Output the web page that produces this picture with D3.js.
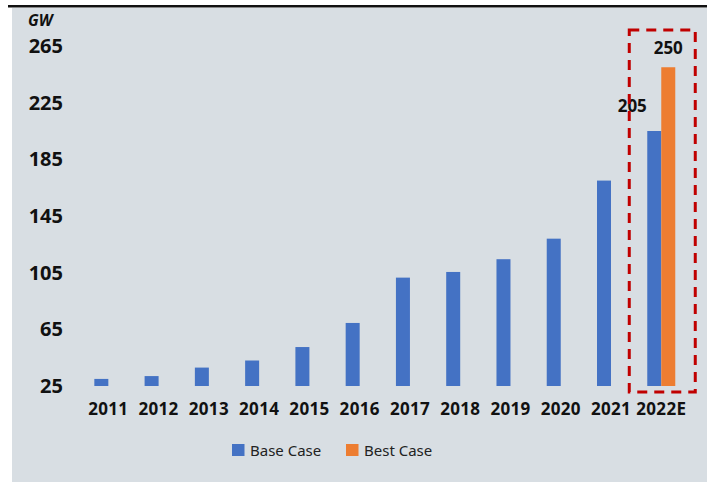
<!DOCTYPE html>
<html><head><meta charset="utf-8">
<script src="https://cdn.jsdelivr.net/npm/d3@7"></script>
<style>body{margin:0;background:#fff;}svg{display:block;}</style>
</head><body>
<svg id="c" width="707" height="482"></svg>
<script>
const categories = ["2011","2012","2013","2014","2015","2016","2017","2018","2019","2020","2021","2022E"];
const baseCase = [30, 32, 38, 43, 52.5, 69.5, 101.5, 105.5, 114.5, 129, 170, 205];
const bestCase = [null, null, null, null, null, null, null, null, null, null, null, 250];
const seriesNames = ["Base Case", "Best Case"];
const seriesColors = ["#4472C4", "#ED7D31"];
const yTicks = [25, 65, 105, 145, 185, 225, 265];
const unitLabel = "GW";

const svg = d3.select("#c");
svg.append("rect").attr("x",12).attr("y",8).attr("width",695).attr("height",474).attr("fill","#d8dee3");
svg.append("rect").attr("x",8).attr("y",5).attr("width",699).attr("height",2.5).attr("fill","#111");

const x = d3.scaleBand().domain(categories).range([69.2, 700.4]).paddingInner(0.443).paddingOuter(0.5);
const xs = d3.scaleBand().domain(seriesNames).range([0, x.bandwidth()]).padding(0);
const y = d3.scaleLinear().domain([25, 265]).range([386, 46]);

const series = [baseCase, bestCase];
series.forEach((vals, si) => {
  svg.append("g").selectAll("rect").data(categories.map((c,i)=>({c, v: vals[i]})).filter(d=>d.v!=null))
    .join("rect")
    .attr("x", d => x(d.c) + xs(seriesNames[si]))
    .attr("width", xs.bandwidth())
    .attr("y", d => y(d.v))
    .attr("height", d => y(25) - y(d.v))
    .attr("fill", seriesColors[si]);
});

// y axis labels
const yAxis = d3.axisLeft(y).tickValues(yTicks).tickSize(0).tickPadding(0);
const gy = svg.append("g").attr("transform","translate(63,0)").call(yAxis);
gy.select(".domain").remove();
gy.selectAll("text").attr("font-family","'Noto Sans', sans-serif").attr("font-weight","bold")
  .attr("font-size","20px").attr("fill","#111");

svg.append("text").attr("x",28).attr("y",26).text(unitLabel)
  .attr("font-family","'Noto Sans', sans-serif").attr("font-weight","bold").attr("font-style","italic")
  .attr("font-size","15.5px").attr("fill","#111");

// x axis labels
const xAxis = d3.axisBottom(x).tickSize(0).tickPadding(0);
const gx = svg.append("g").attr("transform","translate(0,403)").call(xAxis);
gx.select(".domain").remove();
gx.selectAll("text").attr("font-family","'Noto Sans', sans-serif").attr("font-weight","bold")
  .attr("font-size","17px").attr("letter-spacing","0.3px").attr("fill","#111");

// value labels for 2022E
const last = categories.length - 1;
svg.append("text").attr("x", x(categories[last]) + xs(seriesNames[0]) + xs.bandwidth()/2 - 22).attr("y", y(baseCase[last]) - 19)
  .attr("text-anchor","middle").text(String(baseCase[last]))
  .attr("font-family","'Noto Sans', sans-serif").attr("font-weight","bold").attr("font-size","17px").attr("fill","#111");
svg.append("text").attr("x", x(categories[last]) + xs(seriesNames[1]) + xs.bandwidth()/2).attr("y", y(bestCase[last]) - 13)
  .attr("text-anchor","middle").text(String(bestCase[last]))
  .attr("font-family","'Noto Sans', sans-serif").attr("font-weight","bold").attr("font-size","17px").attr("fill","#111");

// dashed highlight box
const bx0 = x(categories[last]) - 18, bx1 = x(categories[last]) + x.bandwidth() + 20;
svg.append("rect").attr("x", bx0).attr("y", 30).attr("width", bx1 - bx0).attr("height", 392 - 30)
  .attr("fill","none").attr("stroke","#C00000").attr("stroke-width",3).attr("stroke-dasharray","10,7");

// legend
const legend = [{x:232, name: seriesNames[0], color: seriesColors[0]},{x:346, name: seriesNames[1], color: seriesColors[1]}];
legend.forEach(l => {
  svg.append("rect").attr("x", l.x).attr("y", 444).attr("width", 12.5).attr("height", 12).attr("fill", l.color);
  svg.append("text").attr("x", l.x + 18).attr("y", 455.5).text(l.name)
    .attr("font-family","'Noto Sans', sans-serif").attr("font-size","15px").attr("fill","#222");
});
</script>
</body></html>
